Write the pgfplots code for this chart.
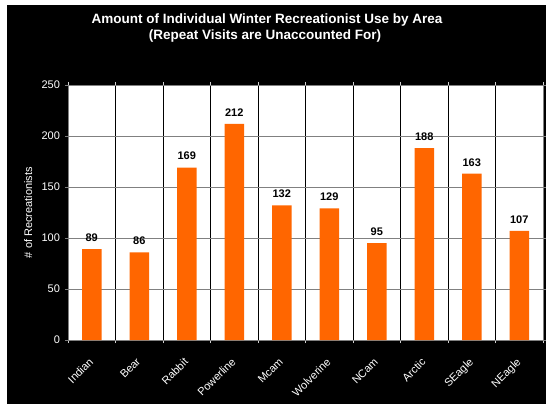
\documentclass[border=0pt]{standalone}
\usepackage{pgfplots}
\pgfplotsset{compat=1.18}
\usepackage{fontspec}
\setmainfont{Liberation Sans}
\definecolor{barorange}{HTML}{FF6600}
\definecolor{gridgray}{HTML}{808080}
\definecolor{ticklight}{HTML}{D0D0D0}

\begin{document}
\begin{tikzpicture}[x=1bp,y=1bp]
\useasboundingbox (0,0) rectangle (546,404);
\fill[white] (0,0) rectangle (546,404);
\fill[black] (7,0) rectangle (546,399);
\node[anchor=base, text=white, inner sep=0, font=\fontsize{13.5bp}{16bp}\selectfont\bfseries]
  at (267,380.5) {Amount of Individual Winter Recreationist Use by Area};
\node[anchor=base, text=white, inner sep=0, font=\fontsize{13.5bp}{16bp}\selectfont\bfseries]
  at (265,364.5) {(Repeat Visits are Unaccounted For)};
\begin{axis}[
  at={(68bp,64bp)}, anchor=south west,
  scale only axis, width=475bp, height=255bp,
  axis background/.style={fill=white},
  /pgf/number format/assume math mode=true,
  xmin=-0.5, xmax=9.5, ymin=0, ymax=250,
  ytick={0,50,...,250},
  xtick={0,...,9},
  xticklabels={Indian,Bear,Rabbit,Powerline,Mcam,Wolverine,NCam,Arctic,SEagle,NEagle},
  minor xtick={-0.5,0.5,...,9.5},
  xminorgrids, ymajorgrids,
  minor x grid style={black, line width=0.8bp},
  major y grid style={gridgray, line width=0.8bp},
  major x tick style={draw=none},
  minor x tick style={ticklight, line width=0.8bp},
  y tick style={gridgray, line width=0.8bp},
  tick align=outside, minor tick length=3bp, major tick length=3bp,
  axis line style={gridgray, line width=0.8bp},
  yticklabel style={text=white, xshift=-1.5bp, font=\fontsize{11bp}{13bp}\selectfont},
  xticklabel style={text=white, rotate=45, anchor=north east, xshift=-9bp, yshift=-4bp,
    font=\fontsize{11bp}{13bp}\selectfont},
  ylabel={\# of Recreationists},
  ylabel style={at={(axis description cs:-0.084,0.5)}, anchor=center, text=white,
    font=\fontsize{11bp}{13bp}\selectfont},
]
\addplot[ybar, bar width=19.5bp, fill=barorange, draw=none,
  nodes near coords,
  nodes near coords style={text=black, anchor=south, yshift=4bp,
    font=\fontsize{11bp}{13bp}\selectfont\bfseries}]
  coordinates {(0,89) (1,86) (2,169) (3,212) (4,132) (5,129) (6,95) (7,188) (8,163) (9,107)};
\end{axis}
\end{tikzpicture}
\end{document}
